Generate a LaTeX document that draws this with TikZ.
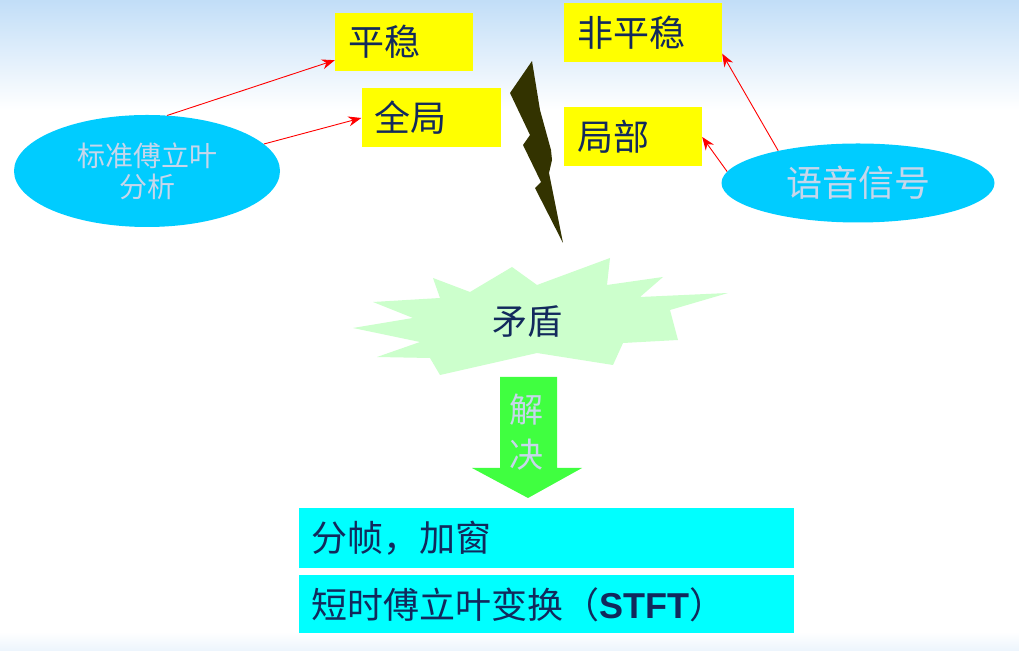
\documentclass[tikz,border=0pt]{standalone}
\usepackage{fontspec}
\setsansfont{Liberation Sans}
\newfontfamily\cjk{Noto Sans CJK SC}
\usetikzlibrary{arrows.meta,positioning,shapes.geometric}

\definecolor{navy}{rgb}{0.07,0.16,0.36}
\definecolor{skyfill}{rgb}{0.0,0.8,1.0}
\definecolor{boxyellow}{rgb}{1.0,1.0,0.0}
\definecolor{boxcyan}{rgb}{0.0,1.0,1.0}
\definecolor{starfill}{rgb}{0.8,1.0,0.8}
\definecolor{boltfill}{rgb}{0.2,0.2,0.0}
\definecolor{arrowgreen}{rgb}{0.25,1.0,0.25}
\definecolor{lighttext}{rgb}{0.78,0.84,0.92}
\definecolor{topblue}{rgb}{0.76,0.87,0.97}

\begin{document}
\begin{tikzpicture}[x=1pt,y=1pt,
  yellow box/.style={rectangle,fill=boxyellow,inner xsep=13pt,inner ysep=0pt,minimum height=59pt,
    align=left,text=navy,font=\cjk\fontsize{36}{42}\selectfont},
  cyan box/.style={rectangle,fill=boxcyan,inner xsep=13pt,inner ysep=0pt,minimum height=60pt,
    text width=469pt,align=left,text=navy,font=\cjk\fontsize{36}{42}\selectfont},
  sky ellipse/.style={ellipse,fill=skyfill,inner sep=0pt,align=center,text=lighttext},
  red line/.style={draw=red,line width=0.9pt,-{Stealth[length=13pt,width=10pt]}}]

  % background
  \useasboundingbox (0,0) rectangle (1019,650);
  \fill[white] (0,0) rectangle (1019,650);
  \shade[top color=topblue,bottom color=white] (0,540) rectangle (1019,650);
  \shade[top color=white,bottom color=topblue!30!white] (0,0) rectangle (1019,18);

  % conflict burst and bolt
  \fill[starfill] (433,372) -- (470,358) -- (512,383) -- (537,365) -- (610,392) -- (607,365)
    -- (663,373) -- (640,353) -- (728,357) -- (670,340) -- (678,310) -- (623,307)
    -- (613,285) -- (537,297) -- (440,275) -- (430,292) -- (377,293) -- (420,308)
    -- (353,322) -- (413,332) -- (373,348) -- (440,352) -- cycle;
  \fill[boltfill] (532,589) -- (540,540) -- (551,500) -- (552,490) -- (549,477) -- (563,407)
    -- (535,462) -- (541,468) -- (523,505) -- (530,515) -- (510,557) -- cycle;
  \node[text=navy,font=\cjk\fontsize{35}{40}\selectfont] (conflict) at (527,328) {矛盾};

  % solve arrow
  \fill[arrowgreen] (500,273) -- (557,273) -- (557,182) -- (582,182) -- (528,152)
    -- (472,182) -- (500,182) -- cycle;
  \node[text=lighttext,align=center,font=\cjk\fontsize{34}{45}\selectfont] (solve) at (526,218) {解\\决};

  \node[sky ellipse,minimum width=266pt,minimum height=112pt,font=\cjk\fontsize{28}{31}\selectfont]
    (std) at (147,479) {标准傅立叶\\分析};
  \node[sky ellipse,minimum width=273pt,minimum height=79pt,font=\cjk\fontsize{36}{40}\selectfont]
    (speech) at (858,467) {语音信号};

  \node[yellow box,text width=112pt,minimum height=58pt] (stable) at (404,608) {平稳};
  \node[yellow box,text width=113pt] (global) at (431,532) {全局};
  \node[yellow box,text width=132pt] (nonstable) at (643,617) {非平稳};
  \node[yellow box,text width=112pt] (local) at (633,513) {局部};

  \node[cyan box] (frame) at (546,112) {分帧，加窗};
  \node[cyan box,minimum height=58pt,below=7pt of frame] (stft) {短时傅立叶变换（{\sffamily\bfseries STFT}）};

  \path
    (std.70) edge[red line] ([yshift=11pt]stable.south west)
    (std.13) edge[red line] (global.west)
    (speech.158) edge[red line] ([yshift=9pt]nonstable.south east)
    (speech.175) edge[red line] (local.east);
\end{tikzpicture}
\end{document}
